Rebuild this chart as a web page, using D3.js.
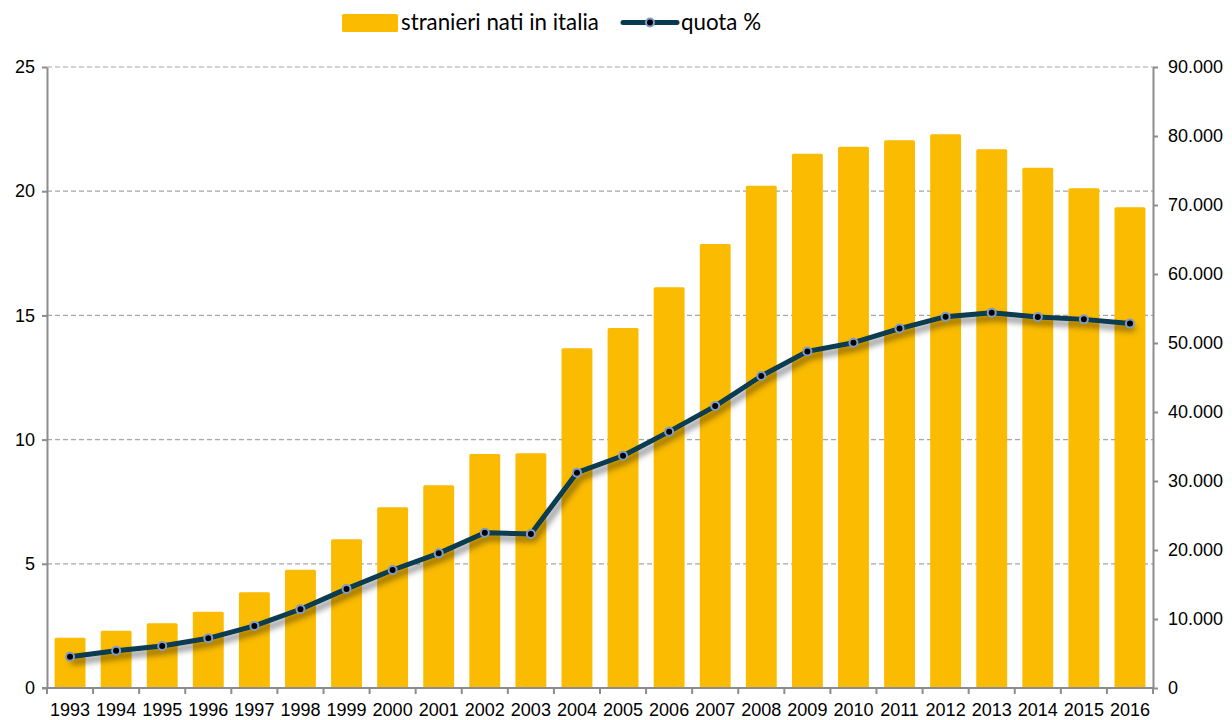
<!DOCTYPE html>
<html>
<head>
<meta charset="utf-8">
<script src="https://cdn.jsdelivr.net/npm/d3@7"></script>
<style>
  html, body { margin: 0; padding: 0; background: #fff; }
  svg { display: block; }
</style>
</head>
<body>
<svg id="chart" width="1232" height="720"></svg>
<script>
const years = ["1993","1994","1995","1996","1997","1998","1999","2000","2001","2002","2003","2004","2005","2006","2007","2008","2009","2010","2011","2012","2013","2014","2015","2016"];
const stranieriNati = [7300, 8300, 9380, 11060, 13870, 17150, 21550, 26190, 29380, 33910, 34010, 49240, 52170, 58070, 64350, 72800, 77430, 78450, 79370, 80250, 78070, 75410, 72420, 69670];
const quota = [1.26, 1.50, 1.69, 2.00, 2.50, 3.17, 3.99, 4.75, 5.42, 6.25, 6.20, 8.67, 9.35, 10.32, 11.35, 12.56, 13.55, 13.90, 14.47, 14.95, 15.11, 14.94, 14.84, 14.67];
const leftTicks = [0, 5, 10, 15, 20, 25];
const rightTicks = [0, 10000, 20000, 30000, 40000, 50000, 60000, 70000, 80000, 90000];
const seriesNames = ["stranieri nati in italia", "quota %"];

(function () {
const svg = d3.select("#chart");
const mLeft = 47, mRight = 1153, mTop = 67, mBottom = 688;
const font = "'Liberation Sans', Arial, sans-serif";
const legFont = "Lato, 'Open Sans', sans-serif";
const barColor = "#FABB00";
const lineColor = "#073A50";
const axisColor = "#8C8C8C";

const x = d3.scaleBand().domain(years).range([mLeft, mRight]).paddingInner(0.33).paddingOuter(0.165);
const yL = d3.scaleLinear().domain([0, 25]).range([mBottom, mTop]);
const yR = d3.scaleLinear().domain([0, 90000]).range([mBottom, mTop]);
const itFmt = d3.formatLocale({decimal: ",", thousands: ".", grouping: [3], currency: ["", ""]}).format(",");

const defs = svg.append("defs");
const f = defs.append("filter").attr("id", "shadow").attr("x", "-10%").attr("y", "-10%").attr("width", "120%").attr("height", "130%");
f.append("feDropShadow").attr("dx", 3).attr("dy", 5).attr("stdDeviation", 3)
  .attr("flood-color", "#000").attr("flood-opacity", 0.5);

// gridlines
svg.append("g").selectAll("line").data(leftTicks.filter(d => d > 0)).join("line")
  .attr("x1", mLeft).attr("x2", mRight)
  .attr("y1", d => yL(d)).attr("y2", d => yL(d))
  .attr("stroke", "#A6A6A6").attr("stroke-width", 1.2).attr("stroke-dasharray", "5,3");

// bars
svg.append("g").selectAll("rect").data(years).join("rect")
  .attr("x", d => x(d)).attr("width", x.bandwidth())
  .attr("y", (d, i) => yR(stranieriNati[i]))
  .attr("height", (d, i) => mBottom - yR(stranieriNati[i]))
  .attr("rx", 1.5)
  .attr("fill", barColor);

// left axis
const gL = svg.append("g").attr("transform", `translate(${mLeft},0)`)
  .call(d3.axisLeft(yL).tickValues(leftTicks).tickSize(5).tickSizeOuter(0).tickPadding(7));
gL.select(".domain").attr("stroke", axisColor).attr("stroke-width", 2);
gL.selectAll(".tick line").attr("stroke", axisColor).attr("stroke-width", 2);
gL.selectAll("text").attr("font-family", font).attr("font-size", 18).attr("fill", "#000");

// right axis
const gR = svg.append("g").attr("transform", `translate(${mRight},0)`)
  .call(d3.axisRight(yR).tickValues(rightTicks).tickFormat(itFmt).tickSize(5).tickSizeOuter(0).tickPadding(10));
gR.select(".domain").attr("stroke", axisColor).attr("stroke-width", 2);
gR.selectAll(".tick line").attr("stroke", axisColor).attr("stroke-width", 2);
gR.selectAll("text").attr("font-family", font).attr("font-size", 18).attr("fill", "#000");

// bottom axis
const gap = x.step() - x.bandwidth();
const boundaries = years.map(d => x(d) - gap / 2).concat([x(years[years.length - 1]) + x.bandwidth() + gap / 2]);
const gB = svg.append("g");
gB.append("line").attr("x1", mLeft - 5).attr("x2", mRight).attr("y1", mBottom).attr("y2", mBottom)
  .attr("stroke", axisColor).attr("stroke-width", 2);
gB.selectAll("line.t").data(boundaries).join("line").attr("class", "t")
  .attr("x1", d => d).attr("x2", d => d).attr("y1", mBottom).attr("y2", mBottom + 6)
  .attr("stroke", axisColor).attr("stroke-width", 2);
gB.selectAll("text").data(years).join("text")
  .attr("x", d => x(d) + x.bandwidth() / 2).attr("y", 716)
  .attr("text-anchor", "middle").attr("font-family", font).attr("font-size", 18).attr("fill", "#000")
  .text(d => d);

// line
const pts = years.map((d, i) => [x(d) + x.bandwidth() / 2, yL(quota[i])]);
const lineGen = d3.line().curve(d3.curveLinear);
const lg = svg.append("g").attr("filter", "url(#shadow)");
lg.append("path").attr("d", lineGen(pts)).attr("fill", "none")
  .attr("stroke", lineColor).attr("stroke-width", 5).attr("stroke-linejoin", "round").attr("stroke-linecap", "round");
svg.append("g").selectAll("circle").data(pts).join("circle")
  .attr("cx", d => d[0]).attr("cy", d => d[1]).attr("r", 4)
  .attr("fill", "#000").attr("stroke", "#7E9CCB").attr("stroke-width", 2);

// legend
const leg = svg.append("g");
leg.append("rect").attr("x", 342).attr("y", 14).attr("width", 56).attr("height", 18).attr("rx", 1.5).attr("fill", barColor);
leg.append("text").attr("x", 401).attr("y", 30).attr("font-family", legFont).attr("font-size", 22.3)
  .attr("fill", "#000").text(seriesNames[0]);
leg.append("line").attr("x1", 623).attr("x2", 677).attr("y1", 22.5).attr("y2", 22.5)
  .attr("stroke", lineColor).attr("stroke-width", 5).attr("stroke-linecap", "round");
leg.append("circle").attr("cx", 650).attr("cy", 22.5).attr("r", 4)
  .attr("fill", "#000").attr("stroke", "#7E9CCB").attr("stroke-width", 2);
leg.append("text").attr("x", 681).attr("y", 30).attr("font-family", legFont).attr("font-size", 22.3)
  .attr("fill", "#000").text(seriesNames[1]);
})();
</script>
</body>
</html>
